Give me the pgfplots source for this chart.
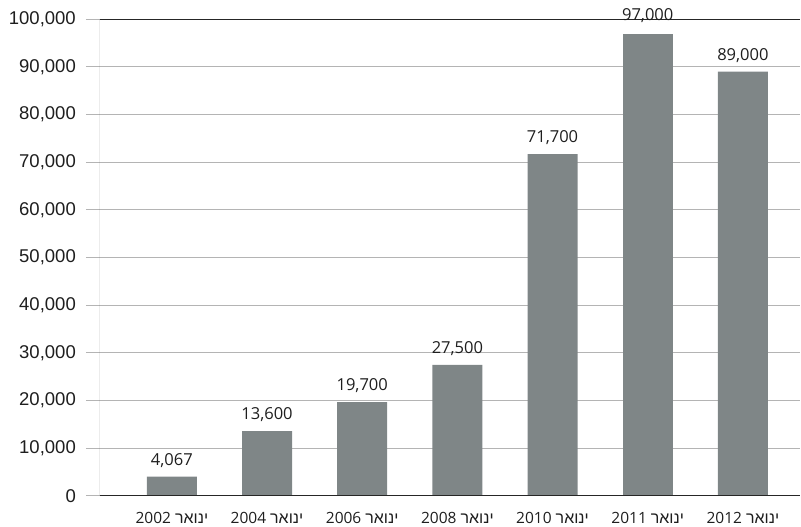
\documentclass[border=0pt]{standalone}
\usepackage{fontspec}
\usepackage{pgfplots}
\pgfplotsset{compat=1.18}
\setmainfont{Liberation Sans}
\newfontfamily\opensans{Open Sans}
\newfontfamily\hebfont[Script=Hebrew]{Liberation Sans}
\TeXXeTstate=1
\definecolor{bargray}{RGB}{127,134,135}
\definecolor{gridgray}{RGB}{180,180,180}
\definecolor{txt}{RGB}{30,30,30}
\newcommand{\jan}[1]{{\opensans\fontsize{15.5}{16}\selectfont #1 {\hebfont\fontsize{16}{16}\selectfont\beginR ינואר\endR}}}

\begin{document}
\begin{tikzpicture}
\begin{axis}[
  scale only axis,
  width=700pt, height=476.7pt,
  xmin=-0.755, xmax=6.6,
  ymin=0, ymax=100000,
  axis line style={draw=none},
  ybar, bar width=50pt, bar shift=0pt,
  ytick={0,10000,...,100000},
  scaled y ticks=false,
  /pgf/number format/fixed,
  /pgf/number format/1000 sep={,},
  /pgf/number format/assume math mode=true,
  ymajorgrids,
  grid style={gridgray, line width=1pt},
  tick align=outside,
  major tick length=14pt,
  ytick pos=left,
  ytick style={gridgray, line width=1pt},
  yticklabel style={font=\fontsize{18.5}{19}\selectfont, text=txt, inner sep=0pt, xshift=-10pt},
  xtick={0,...,6},
  xtick pos=bottom,
  xtick style={draw=none},
  xticklabels={\jan{2002},\jan{2004},\jan{2006},\jan{2008},\jan{2010},\jan{2011},\jan{2012}},
  xticklabel style={text=txt, anchor=north, inner sep=0pt, yshift=-2pt},
  nodes near coords,
  nodes near coords style={font=\opensans\fontsize{16.5}{17}\selectfont, text=txt,
    anchor=south, inner sep=0pt, yshift=9pt},
]
  \addplot[fill=bargray, draw=none] coordinates {
    (0, 4067)
    (1, 13600)
    (2, 19700)
    (3, 27500)
    (4, 71700)
    (6, 89000)
  };
  \addplot[fill=bargray, draw=none, nodes near coords style={yshift=2pt}] coordinates {
    (5, 97000)
  };
  \draw[black!85, line width=1.2pt] (rel axis cs:0,0) -- (rel axis cs:1,0);
  \draw[black!85, line width=1.2pt] (rel axis cs:0,1) -- (rel axis cs:1,1);
  \draw[black!60, line width=1pt] (rel axis cs:0,0) -- (rel axis cs:0,1);
\end{axis}
\path (current axis.south west) ++(-100pt,-31pt) rectangle ++(801pt,527pt);
\end{tikzpicture}
\end{document}
